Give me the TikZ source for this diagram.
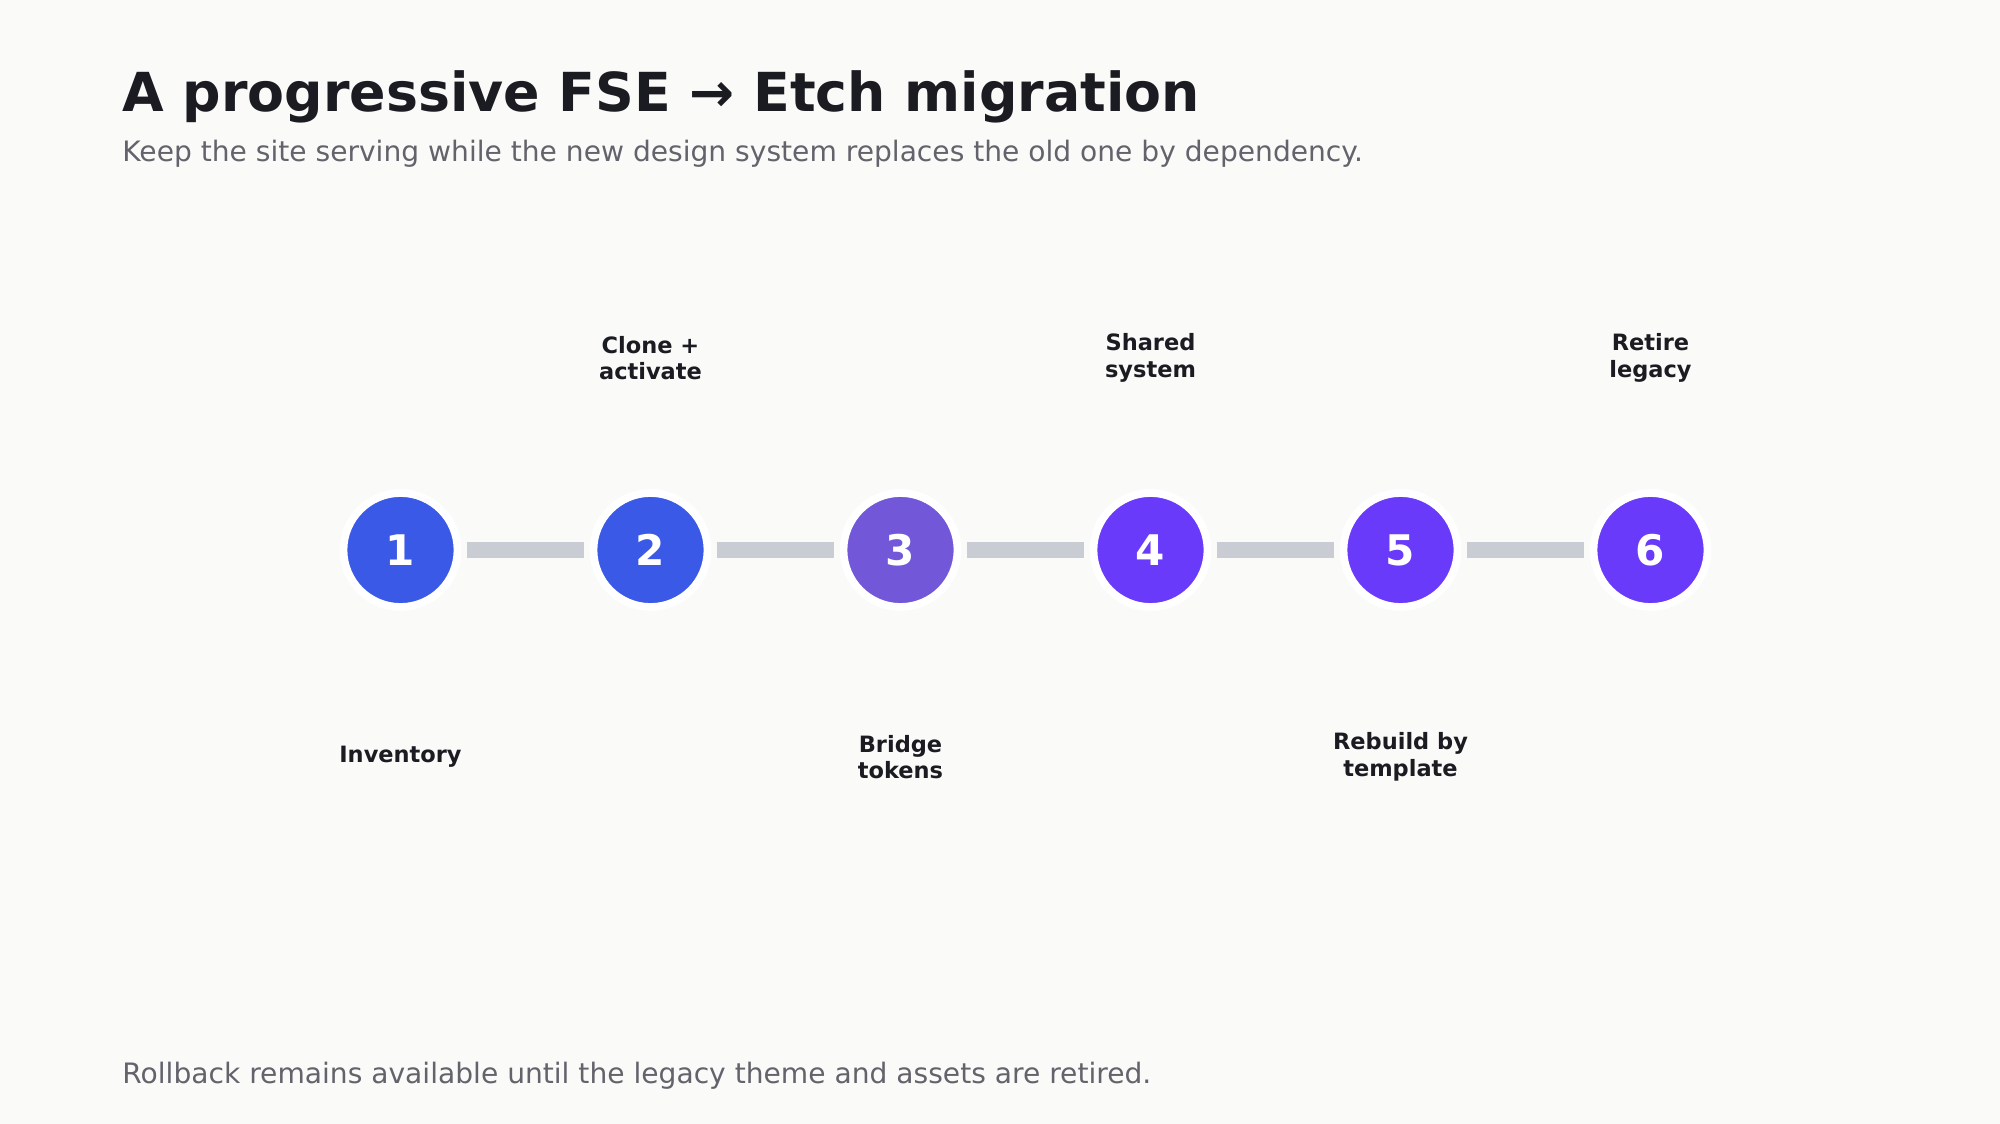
\documentclass[tikz,border=0pt]{standalone}
\usepackage{fontspec}
\setmainfont{DejaVu Sans}
\usetikzlibrary{positioning}
\definecolor{bgcol}{HTML}{FAFAF9}
\definecolor{inkcol}{HTML}{1B1B22}
\definecolor{mutedcol}{HTML}{62636B}
\definecolor{barcol}{HTML}{C9CCD3}
\definecolor{bluecol}{HTML}{3A59E6}
\definecolor{midcol}{HTML}{7258D8}
\definecolor{violetcol}{HTML}{6A3AFB}
\begin{document}
\begin{tikzpicture}
  \tikzset{stage/.style = {shape=circle,draw=white,line width=2.2pt,minimum size=1.14cm,inner sep=0pt,text=white,font=\bfseries\fontsize{12}{14}\selectfont}}
  \tikzset{bar/.style = {draw=barcol,line width=4.3pt}}
  \tikzset{caption/.style = {align=center,text=inkcol,font=\bfseries\fontsize{6.4}{7.6}\selectfont}}

  \fill[bgcol] (0,0) rectangle (20,-11.24);
  \useasboundingbox (0,0) rectangle (20,-11.24);

  \node[anchor=base west,text=inkcol,font=\bfseries\fontsize{15.3}{18}\selectfont] (title) at (1.10,-1.12) {A progressive FSE → Etch migration};
  \node[anchor=base west,text=mutedcol,font=\fontsize{8}{10}\selectfont] (sub) at (1.10,-1.62) {Keep the site serving while the new design system replaces the old one by dependency.};
  \node[anchor=base west,text=mutedcol,font=\fontsize{8}{10}\selectfont] (foot) at (1.10,-10.84) {Rollback remains available until the legacy theme and assets are retired.};

	\node[stage,fill=bluecol] (S1) at (4.005,-5.50) {1};
	\node[stage,fill=bluecol] (S2) at (6.505,-5.50) {2};
	\node[stage,fill=midcol] (S3) at (9.005,-5.50) {3};
	\node[stage,fill=violetcol] (S4) at (11.505,-5.50) {4};
	\node[stage,fill=violetcol] (S5) at (14.005,-5.50) {5};
	\node[stage,fill=violetcol] (S6) at (16.505,-5.50) {6};

    \foreach \from/\to in {S1/S2, S2/S3, S3/S4, S4/S5, S5/S6}
    \draw[bar] ([xshift=1.5pt]\from.east) -- ([xshift=-1.5pt]\to.west);

	\node[caption] (L1) at (4.005,-7.57) {Inventory};
	\node[caption] (L2) at (6.505,-3.58) {Clone +\\activate};
	\node[caption] (L3) at (9.005,-7.57) {Bridge\\tokens};
	\node[caption] (L4) at (11.505,-3.58) {Shared\\system};
	\node[caption] (L5) at (14.005,-7.57) {Rebuild by\\template};
	\node[caption] (L6) at (16.505,-3.58) {Retire\\legacy};
\end{tikzpicture}
\end{document}
